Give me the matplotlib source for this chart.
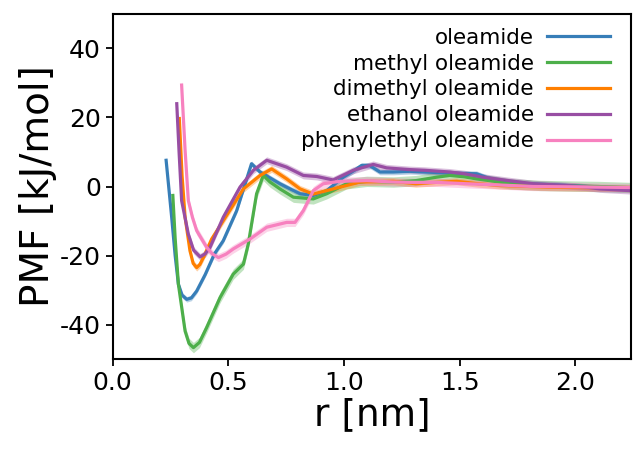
import numpy as np
import matplotlib
matplotlib.use('Agg')
import matplotlib.pyplot as plt

plt.rcParams['axes.unicode_minus'] = False

# PMF curves (r in nm, PMF in kJ/mol)
r_ole = [0.231, 0.255, 0.27, 0.284, 0.30, 0.32, 0.34, 0.363, 0.40, 0.44, 0.478, 0.536,
         0.60, 0.637, 0.68, 0.723, 0.77, 0.81, 0.867, 0.925, 0.997, 1.04, 1.076, 1.11,
         1.155, 1.213, 1.285, 1.35, 1.42, 1.50, 1.573, 1.62, 1.70, 1.79, 1.90, 2.0,
         2.1, 2.24]
pmf_ole = [7.6, -8.9, -20.0, -28.3, -31.5, -32.7, -32.3, -30.3, -25.5, -19.5, -15.7, -7.0,
           6.6, 4.2, 2.5, 0.8, -0.8, -2.1, -2.6, -1.2, 2.7, 4.5, 6.1, 6.1,
           4.2, 4.2, 4.4, 4.2, 4.0, 3.8, 3.7, 2.5, 1.5, 0.8, 0.5, 0.2,
           -0.2, -0.7]

r_met = [0.26, 0.27, 0.284, 0.313, 0.33, 0.349, 0.375, 0.406, 0.464, 0.521, 0.565,
         0.586, 0.622, 0.651, 0.68, 0.723, 0.781, 0.867, 0.925, 1.011, 1.098, 1.213,
         1.31, 1.40, 1.457, 1.52, 1.573, 1.65, 1.717, 1.85, 2.0, 2.1, 2.24]
pmf_met = [-2.6, -15.0, -28.3, -41.9, -45.5, -46.7, -45.2, -40.9, -32.2, -25.4, -22.5,
           -16.7, -2.1, 3.2, 1.3, -0.7, -3.1, -3.6, -2.1, 0.8, 1.5, 1.3,
           1.7, 2.7, 3.2, 2.8, 2.2, 1.5, 0.8, 0.3, 0.1, 0.0, -0.3]

r_dim = [0.288, 0.30, 0.313, 0.334, 0.348, 0.363, 0.377, 0.392, 0.428, 0.478, 0.565,
         0.637, 0.687, 0.752, 0.81, 0.867, 0.953, 1.069, 1.213, 1.31, 1.40, 1.486,
         1.58, 1.673, 1.89, 2.24]
pmf_dim = [19.7, 3.0, -8.9, -18.6, -22.3, -23.5, -22.6, -20.6, -15.2, -9.9, -0.7,
           3.2, 5.1, 2.2, -0.7, -2.2, -0.7, 1.3, 1.5, 0.8, 1.2, 1.5,
           0.8, 0.3, -0.2, -0.5]

r_eth = [0.277, 0.287, 0.298, 0.327, 0.35, 0.378, 0.40, 0.421, 0.478, 0.55, 0.608,
         0.666, 0.752, 0.824, 0.882, 0.953, 1.04, 1.126, 1.184, 1.243, 1.285, 1.35,
         1.457, 1.52, 1.60, 1.70, 1.817, 1.96, 2.05, 2.105, 2.24]
pmf_eth = [24.0, 10.0, -4.1, -13.8, -18.5, -20.4, -19.5, -17.6, -8.9, -0.2, 4.7,
           7.6, 5.6, 3.2, 2.9, 1.9, 4.7, 6.4, 5.4, 5.1, 4.9, 4.7,
           4.2, 3.7, 2.7, 1.8, 0.8, 0.3, -0.2, -0.7, -1.2]

r_phe = [0.298, 0.313, 0.327, 0.345, 0.363, 0.406, 0.43, 0.457, 0.49, 0.521, 0.594,
         0.666, 0.752, 0.788, 0.824, 0.867, 0.91, 0.982, 1.098, 1.213, 1.30, 1.40,
         1.53, 1.65, 1.817, 2.0, 2.24]
pmf_phe = [29.4, 10.5, -4.1, -9.0, -12.8, -17.6, -19.5, -20.6, -19.6, -18.1, -15.2,
           -11.8, -10.4, -10.4, -7.0, -1.2, 0.8, 1.5, 1.7, 1.3, 1.2, 1.2,
           0.8, 0.5, 0.0, -0.1, -0.3]

labels = ['oleamide', 'methyl oleamide', 'dimethyl oleamide',
          'ethanol oleamide', 'phenylethyl oleamide']
errs = [0.8, 1.5, 1.0, 1.0, 1.2]
colors = ['#377eb8', '#4daf4a', '#ff7f00', '#984ea3', '#f781bf']

series = [(r_ole, pmf_ole), (r_met, pmf_met), (r_dim, pmf_dim),
          (r_eth, pmf_eth), (r_phe, pmf_phe)]

fig = plt.figure(figsize=(6.33, 4.5), dpi=100)
ax = fig.add_axes([0.178, 0.2022, 0.8188, 0.7667])

for (r, pmf), lab, err, c in zip(series, labels, errs, colors):
    r = np.array(r)
    pmf = np.array(pmf)
    ax.fill_between(r, pmf - err, pmf + err, color=c, alpha=0.35, lw=0)
    ax.plot(r, pmf, color=c, lw=2.3, label=lab)

ax.set_xlim(0, 2.24)
ax.set_ylim(-50, 50)
ax.set_xticks([0.0, 0.5, 1.0, 1.5, 2.0])
ax.set_yticks([-40, -20, 0, 20, 40])
ax.tick_params(axis='both', labelsize=18, length=5, width=1.3, direction='out')
for s in ax.spines.values():
    s.set_linewidth(1.5)
ax.set_xlabel('r [nm]', fontsize=27, labelpad=2)
ax.set_ylabel('PMF [kJ/mol]', fontsize=28, labelpad=2)

ax.legend(loc='upper right', bbox_to_anchor=(0.96, 0.96), frameon=False,
          markerfirst=False, fontsize=15.5, labelspacing=0.27, handlelength=2.95,
          handletextpad=0.6, borderpad=0, borderaxespad=0)

fig.savefig('out.png', dpi=100)
